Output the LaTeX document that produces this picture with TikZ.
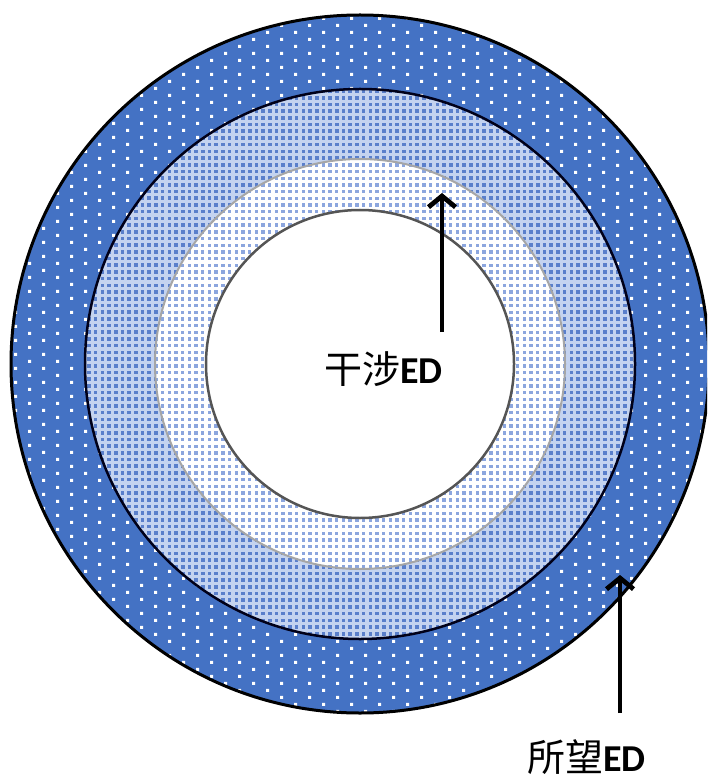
\documentclass[tikz,border=0pt]{standalone}
\usepackage{fontspec}
\newfontfamily\cjkfont{Noto Sans CJK SC}
\newfontfamily\edfont{Carlito}
\usetikzlibrary{patterns,arrows.meta}
\definecolor{outerblue}{HTML}{4472C4}
\definecolor{ringbase}{HTML}{C4D3F0}
\definecolor{ringdot}{HTML}{5A7FCB}
\definecolor{innerdot}{HTML}{8CA6DE}
\definecolor{gborder}{HTML}{A6A6A6}
\definecolor{dborder}{HTML}{555555}
\pgfdeclarepatternformonly{outerdots}{\pgfqpoint{-1pt}{-1pt}}{\pgfqpoint{29pt}{15pt}}{\pgfqpoint{28pt}{14pt}}{%
  \pgfpathrectangle{\pgfqpoint{0pt}{0pt}}{\pgfqpoint{3.2pt}{3.2pt}}%
  \pgfpathrectangle{\pgfqpoint{14pt}{7pt}}{\pgfqpoint{3.2pt}{3.2pt}}%
  \pgfusepath{fill}}
\pgfdeclarepatternformonly{ringdots}{\pgfqpoint{-1pt}{-1pt}}{\pgfqpoint{7.7pt}{7.7pt}}{\pgfqpoint{6.7pt}{6.7pt}}{%
  \pgfpathrectangle{\pgfqpoint{0pt}{0pt}}{\pgfqpoint{3.6pt}{3.6pt}}%
  \pgfusepath{fill}}
\pgfdeclarepatternformonly{innerdots}{\pgfqpoint{-1pt}{-1pt}}{\pgfqpoint{7.7pt}{7.7pt}}{\pgfqpoint{6.7pt}{6.7pt}}{%
  \pgfpathrectangle{\pgfqpoint{0pt}{0pt}}{\pgfqpoint{3.4pt}{3.4pt}}%
  \pgfusepath{fill}}
\tikzset{
  arr/.style={line width=4.8pt,-{Straight Barb[length=11pt,width=27pt]}},
  lbl/.style={anchor=base west,inner sep=0pt,font=\fontsize{38}{41}\selectfont}
}
\begin{document}
\begin{tikzpicture}[x=1pt,y=-1pt]
\useasboundingbox (0,0) rectangle (707,783);
\fill[white] (0,0) rectangle (707,783);
\begin{scope}
\clip (0,0) rectangle (707,783);
\coordinate (c) at (360,364);
% outer ring
\fill[outerblue] (c) circle (349pt);
\fill[pattern=outerdots,pattern color=white] (c) circle (349pt);
% second ring
\fill[ringbase] (c) circle (275pt);
\fill[pattern=ringdots,pattern color=ringdot] (c) circle (275pt);
% third ring
\fill[white] (c) circle (205pt);
\fill[pattern=innerdots,pattern color=innerdot] (c) circle (205pt);
% inner disc
\fill[white] (c) circle (154pt);
% borders
\draw[line width=3pt,black] (c) circle (349pt);
\draw[line width=2.5pt,black!90!blue] (c) circle (275pt);
\draw[line width=2pt,gborder] (c) circle (205pt);
\draw[line width=2.5pt,dborder] (c) circle (154pt);
\end{scope}
% labels
\node[lbl] (l1) at (324,383) {{\cjkfont 干涉}{\edfont\bfseries ED}};
\node[lbl] (l2) at (527,771) {{\cjkfont 所望}{\edfont\bfseries ED}};
% arrows
\coordinate (a1s) at (442,332);
\coordinate (a1e) at (442,193);
\coordinate (a2s) at (620,713);
\coordinate (a2e) at (620,575);
\draw[arr] (a1s) -- (a1e);
\draw[arr] (a2s) -- (a2e);
\end{tikzpicture}
\end{document}
